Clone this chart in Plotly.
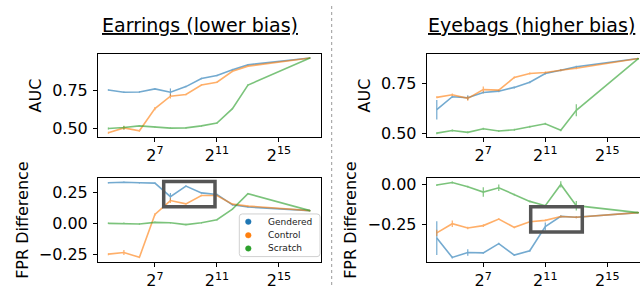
import math
import plotly.graph_objects as go

# ---------------- data ----------------
train_sizes = [2**k for k in range(4, 14)] + [2**17]
series_names = ["Gendered", "Control", "Scratch"]
series_colors = ["#1f77b4", "#ff7f0e", "#2ca02c"]

# Earrings (lower bias) - AUC
ear_auc_gendered = [0.752, 0.737, 0.739, 0.759, 0.737, 0.774, 0.827, 0.846, 0.885, 0.917, 0.961]
ear_auc_control = [0.472, 0.504, 0.485, 0.630, 0.711, 0.722, 0.784, 0.803, 0.874, 0.908, 0.961]
ear_auc_scratch = [0.500, 0.506, 0.517, 0.509, 0.502, 0.504, 0.517, 0.536, 0.630, 0.784, 0.961]
ear_auc_gendered_err = [0.005, 0.005, 0.005, 0.005, 0.025, 0.005, 0.005, 0.005, 0.005, 0.005, 0.003]
ear_auc_control_err = [0.006, 0.012, 0.005, 0.010, 0.015, 0.005, 0.005, 0.005, 0.005, 0.005, 0.003]
ear_auc_scratch_err = [0.006, 0.012, 0.005, 0.005, 0.005, 0.005, 0.005, 0.005, 0.005, 0.005, 0.003]

# Earrings (lower bias) - FPR difference
ear_fpr_gendered = [0.329, 0.334, 0.329, 0.326, 0.216, 0.302, 0.247, 0.234, 0.150, 0.132, 0.103]
ear_fpr_control = [-0.250, -0.237, -0.276, 0.072, 0.185, 0.158, 0.226, 0.226, 0.156, 0.140, 0.103]
ear_fpr_scratch = [0.000, 0.000, -0.005, 0.008, 0.005, -0.010, 0.005, 0.029, 0.115, 0.240, 0.103]
ear_fpr_gendered_err = [0.006, 0.006, 0.006, 0.006, 0.030, 0.006, 0.006, 0.006, 0.006, 0.006, 0.004]
ear_fpr_control_err = [0.008, 0.020, 0.006, 0.010, 0.020, 0.006, 0.006, 0.006, 0.006, 0.006, 0.004]
ear_fpr_scratch_err = [0.006, 0.006, 0.006, 0.006, 0.006, 0.006, 0.006, 0.006, 0.006, 0.006, 0.004]

# Eyebags (higher bias) - AUC
eye_auc_gendered = [0.620, 0.685, 0.680, 0.706, 0.713, 0.732, 0.758, 0.802, 0.818, 0.836, 0.877]
eye_auc_control = [0.682, 0.695, 0.677, 0.721, 0.718, 0.782, 0.802, 0.807, 0.818, 0.828, 0.877]
eye_auc_scratch = [0.502, 0.515, 0.506, 0.524, 0.513, 0.519, 0.534, 0.549, 0.516, 0.617, 0.877]
eye_auc_gendered_err = [0.049, 0.005, 0.012, 0.005, 0.005, 0.005, 0.005, 0.005, 0.005, 0.005, 0.003]
eye_auc_control_err = [0.005, 0.006, 0.012, 0.015, 0.006, 0.005, 0.005, 0.005, 0.005, 0.005, 0.003]
eye_auc_scratch_err = [0.005, 0.005, 0.005, 0.005, 0.005, 0.005, 0.005, 0.005, 0.005, 0.030, 0.003]

# Eyebags (higher bias) - FPR difference
eye_fpr_gendered = [-0.339, -0.461, -0.430, -0.432, -0.374, -0.446, -0.419, -0.266, -0.202, -0.207, -0.178]
eye_fpr_control = [-0.306, -0.248, -0.275, -0.260, -0.219, -0.271, -0.236, -0.227, -0.202, -0.207, -0.178]
eye_fpr_scratch = [-0.004, 0.012, -0.014, -0.048, -0.021, -0.064, -0.107, -0.134, 0.000, -0.134, -0.178]
eye_fpr_gendered_err = [0.107, 0.006, 0.020, 0.006, 0.006, 0.006, 0.006, 0.025, 0.006, 0.006, 0.004]
eye_fpr_control_err = [0.020, 0.020, 0.008, 0.008, 0.006, 0.006, 0.006, 0.006, 0.006, 0.006, 0.004]
eye_fpr_scratch_err = [0.006, 0.006, 0.006, 0.030, 0.020, 0.006, 0.006, 0.006, 0.020, 0.030, 0.004]

x_tick_exps = [7, 11, 15]

panels = [
    ("x", "y", [ear_auc_gendered, ear_auc_control, ear_auc_scratch],
     [ear_auc_gendered_err, ear_auc_control_err, ear_auc_scratch_err]),
    ("x2", "y2", [eye_auc_gendered, eye_auc_control, eye_auc_scratch],
     [eye_auc_gendered_err, eye_auc_control_err, eye_auc_scratch_err]),
    ("x3", "y3", [ear_fpr_gendered, ear_fpr_control, ear_fpr_scratch],
     [ear_fpr_gendered_err, ear_fpr_control_err, ear_fpr_scratch_err]),
    ("x4", "y4", [eye_fpr_gendered, eye_fpr_control, eye_fpr_scratch],
     [eye_fpr_gendered_err, eye_fpr_control_err, eye_fpr_scratch_err]),
]

fig = go.Figure()
for xa, ya, vals, errs in panels:
    for name, color, v, e in zip(series_names, series_colors, vals, errs):
        fig.add_trace(go.Scatter(
            x=train_sizes, y=v, xaxis=xa, yaxis=ya, mode="lines",
            line=dict(color=color, width=1.6), opacity=0.62,
            error_y=dict(type="data", array=e, visible=True, color=color,
                         thickness=1.2, width=0),
            showlegend=False, name=name, hoverinfo="skip"))

W, H = 640, 291
def log_range(a, b):
    return [a * math.log10(2), b * math.log10(2)]

tickvals = [2**k for k in x_tick_exps]
ticktext = ["2<sup>%d</sup>" % k for k in x_tick_exps]

xcommon = dict(type="log", tickvals=tickvals, ticktext=ticktext, ticks="outside",
               ticklen=4, tickwidth=1, tickcolor="black", showline=True,
               linecolor="black", linewidth=1, showgrid=False, zeroline=False,
               tickfont=dict(size=16, color="black"), mirror=True)
ycommon = dict(ticks="outside", ticklen=4, tickwidth=1, tickcolor="black",
               showline=True, linecolor="black", linewidth=1, showgrid=False,
               zeroline=False, tickfont=dict(size=16, color="black"),
               tickformat=".2f", ticklabelstandoff=2)

left_dom = [98 / W, 321 / W]
right_dom = [426.7 / W, 1.0]
top_dom = [(H - 138) / H, (H - 53) / H]
bot_dom = [(H - 267.3) / H, (H - 180.7) / H]

fig.update_layout(
    width=W, height=H, margin=dict(l=0, r=0, t=0, b=0),
    plot_bgcolor="white", paper_bgcolor="white",
    font=dict(family="DejaVu Sans", color="black", size=16),
    xaxis=dict(xcommon, domain=left_dom, anchor="y", range=log_range(3.33, 17.71)),
    xaxis2=dict(xcommon, domain=right_dom, anchor="y2", range=log_range(3.35, 17.11)),
    xaxis3=dict(xcommon, domain=left_dom, anchor="y3", range=log_range(3.33, 17.71)),
    xaxis4=dict(xcommon, domain=right_dom, anchor="y4", range=log_range(3.35, 17.11)),
    yaxis=dict(ycommon, domain=top_dom, anchor="x", range=[0.446, 0.985],
               tickvals=[0.5, 0.75], mirror=True,
               title=dict(text="AUC", standoff=6, font=dict(size=16))),
    yaxis2=dict(ycommon, domain=top_dom, anchor="x2", range=[0.484, 0.898],
                tickvals=[0.5, 0.75], mirror=False,
                title=dict(text="AUC", standoff=6, font=dict(size=16))),
    yaxis3=dict(ycommon, domain=bot_dom, anchor="x3", range=[-0.314, 0.367],
                tickvals=[-0.25, 0.0, 0.25], mirror=True,
                title=dict(text="FPR Difference", standoff=6, font=dict(size=16))),
    yaxis4=dict(ycommon, domain=bot_dom, anchor="x4", range=[-0.49, 0.04],
                tickvals=[-0.25, 0.0], mirror=False,
                title=dict(text="FPR Difference", standoff=6, font=dict(size=16))),
    showlegend=False,
)

fig.add_annotation(text="<u>Earrings (lower bias)</u>", xref="paper", yref="paper",
                   x=200 / W, y=1 - 23 / H, xanchor="center", yanchor="middle",
                   showarrow=False, font=dict(size=19))
fig.add_annotation(text="<u>Eyebags (higher bias)</u>", xref="paper", yref="paper",
                   x=531.7 / W, y=1 - 23 / H, xanchor="center", yanchor="middle",
                   showarrow=False, font=dict(size=19))

# dashed separator
fig.add_shape(type="line", xref="paper", yref="paper", x0=331.7 / W, x1=331.7 / W,
              y0=0, y1=1, line=dict(color="#999999", width=1, dash="3px,3px"))

# highlight boxes
fig.add_shape(type="rect", xref="x3 domain", yref="y3",
              x0=(163.7 - 98) / 223, x1=(215 - 98) / 223, y0=0.134, y1=0.340,
              line=dict(color="#555555", width=3.5))
fig.add_shape(type="rect", xref="x4 domain", yref="y4",
              x0=(530.7 - 426.7) / 213.3, x1=(582.3 - 426.7) / 213.3, y0=-0.300, y1=-0.141,
              line=dict(color="#555555", width=3.5))

# legend box (matplotlib-style, lower right of the lower-left panel)
lx0, lx1, ly0, ly1, rr = 239.3, 320.0, 217.7, 261.7, 3.0
def px(x):
    return x / W
def py(y):
    return 1 - y / H
path = ("M {a},{b} L {c},{b} Q {d},{b} {d},{e} L {d},{f} Q {d},{g} {c},{g} "
        "L {a},{g} Q {h},{g} {h},{f} L {h},{e} Q {h},{b} {a},{b} Z").format(
    a=px(lx0 + rr), b=py(ly0), c=px(lx1 - rr), d=px(lx1), e=py(ly0 + rr),
    f=py(ly1 - rr), g=py(ly1), h=px(lx0))
fig.add_shape(type="path", xref="paper", yref="paper", path=path,
              fillcolor="rgba(255,255,255,0.8)", line=dict(color="#d0d0d0", width=1))
legend_rows = [225.7, 239.7, 253.3]
for name, color, ry in zip(series_names, series_colors, legend_rows):
    r = 2.8
    fig.add_shape(type="circle", xref="paper", yref="paper",
                  x0=px(248.3 - r), x1=px(248.3 + r), y0=py(ry + r), y1=py(ry - r),
                  fillcolor=color, line=dict(color=color, width=0.5))
    fig.add_annotation(text=name, xref="paper", yref="paper", x=px(265.5), y=py(ry),
                       xanchor="left", yanchor="middle", showarrow=False,
                       font=dict(size=9, color="#222222"))

fig.write_html("out.html", config={"displayModeBar": False},
               post_script="document.body.style.margin='0px';"
                           "document.body.style.overflow='hidden';")
